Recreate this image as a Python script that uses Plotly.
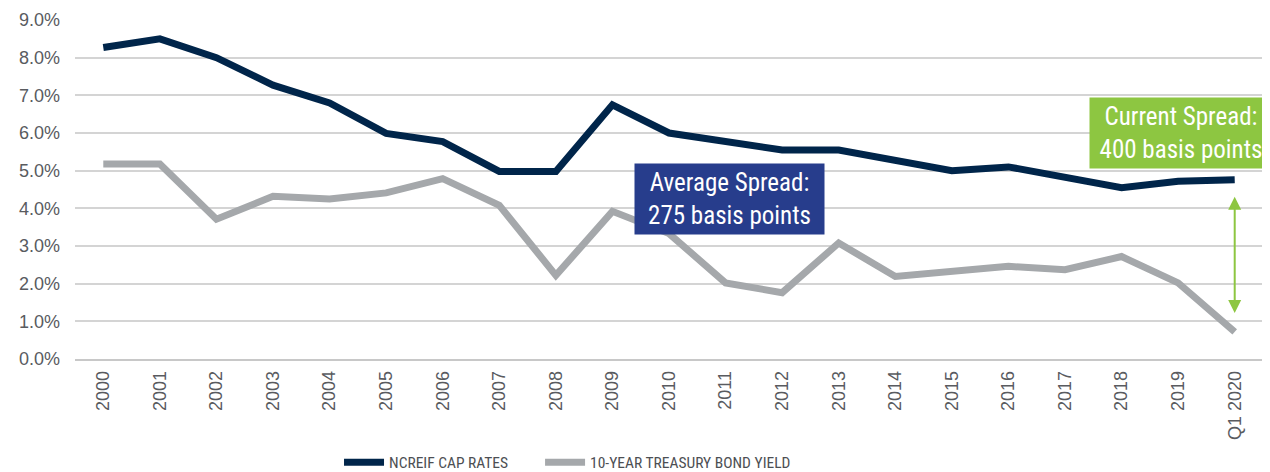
import plotly.graph_objects as go

years = ["2000", "2001", "2002", "2003", "2004", "2005", "2006", "2007", "2008", "2009",
         "2010", "2011", "2012", "2013", "2014", "2015", "2016", "2017", "2018", "2019", "Q1 2020"]
ncreif = [8.27, 8.5, 8.0, 7.27, 6.8, 5.99, 5.77, 4.98, 4.98, 6.75,
          6.0, 5.78, 5.55, 5.55, 5.27, 5.0, 5.1, 4.83, 4.55, 4.72, 4.76]
treasury = [5.18, 5.18, 3.71, 4.32, 4.25, 4.41, 4.79, 4.08, 2.22, 3.92,
            3.33, 2.02, 1.76, 3.08, 2.19, 2.33, 2.46, 2.37, 2.72, 2.02, 0.72]
yticks = [0, 1, 2, 3, 4, 5, 6, 7, 8, 9]
ytick_labels = [f"{v:.1f}%" for v in yticks]

NAVY = "#00254a"
GREY = "#a5a8ab"
GREEN = "#8dc641"
BLUE = "#273d8c"
COND = "Liberation Sans Narrow, Arial Narrow, Roboto Condensed, sans-serif"
SANS = "Liberation Sans, Arial, sans-serif"

fig = go.Figure()
fig.add_trace(go.Scatter(x=years, y=ncreif, mode="lines", name="NCREIF CAP RATES",
                         line=dict(color=NAVY, width=7), legend="legend"))
fig.add_trace(go.Scatter(x=years, y=treasury, mode="lines", name="10-YEAR TREASURY BOND YIELD",
                         line=dict(color=GREY, width=7), legend="legend2"))

fig.add_annotation(x=9, y=5.2, xref="x", yref="y", text="Average Spread:<br>275 basis points",
                   showarrow=False, xanchor="left", yanchor="top", xshift=22, align="center",
                   width=181, bgcolor=BLUE, font=dict(family=COND, size=25, color="white"),
                   borderpad=4)
fig.add_annotation(x=19, y=6.96, xref="x", yref="y", text="Current Spread:<br>400 basis points",
                   showarrow=False, xanchor="left", yanchor="top", xshift=-89, align="center",
                   width=174, bgcolor=GREEN, font=dict(family=COND, size=25, color="white"),
                   borderpad=4)
# double-headed spread arrow
fig.add_annotation(x=20, y=1.22, ax=20, ay=4.35, xref="x", yref="y",
                   axref="x", ayref="y", text="", showarrow=True, arrowhead=2, startarrowhead=2,
                   arrowside="end+start", arrowsize=1.3, arrowwidth=2, arrowcolor=GREEN)

legend_common = dict(orientation="h", xanchor="left", xref="container", yref="container",
                     y=0.02, yanchor="middle", itemwidth=40,
                     font=dict(family=COND, size=15.5, color="#4d4f53"))

fig.update_layout(
    width=1262, height=464,
    margin=dict(l=67, r=7, t=12, b=113),
    plot_bgcolor="white", paper_bgcolor="white",
    showlegend=True,
    legend=dict(x=0.2623, **legend_common),
    legend2=dict(x=0.4216, **legend_common),
    xaxis=dict(type="category", range=[-0.5, 20.5], tickangle=-90, showgrid=False, showline=True,
               linecolor="#c8c8c8", linewidth=1.5, ticks="", automargin=False,
               tickfont=dict(family=SANS, size=18, color="#595b5f"), ticklabelstandoff=3),
    yaxis=dict(range=[0, 9], tickvals=yticks, ticktext=ytick_labels, showgrid=True,
               gridcolor="#d4d4d4", gridwidth=1.5, zeroline=False, showline=False,
               automargin=False,
               tickfont=dict(family=SANS, size=18, color="#595b5f"),
               ticklabelstandoff=14),
)

fig.write_html("out.html")
